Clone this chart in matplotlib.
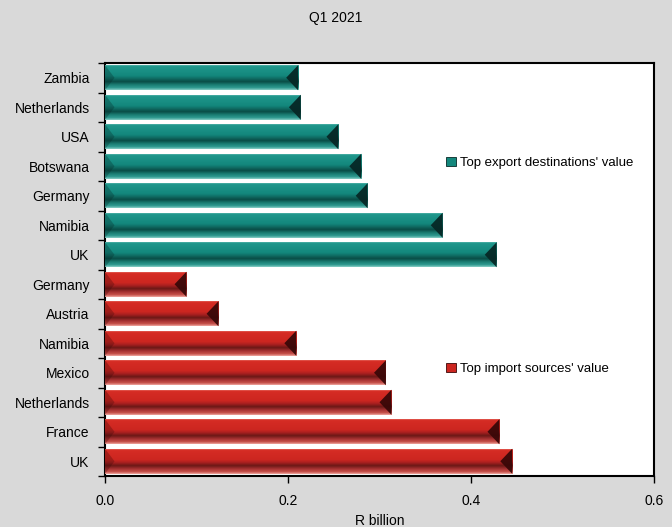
import numpy as np
import matplotlib
matplotlib.use("Agg")
import matplotlib.pyplot as plt
from matplotlib.patches import Polygon, Patch
from matplotlib.colors import to_rgb

# ---- data ----
title = "Q1 2021"
export_countries = ["Zambia", "Netherlands", "USA", "Botswana", "Germany", "Namibia", "UK"]
export_values = [0.211, 0.214, 0.255, 0.280, 0.287, 0.369, 0.428]
import_countries = ["Germany", "Austria", "Namibia", "Mexico", "Netherlands", "France", "UK"]
import_values = [0.089, 0.124, 0.209, 0.307, 0.313, 0.431, 0.445]
export_label = "Top export destinations' value"
import_label = "Top import sources' value"
x_ticks = [0.0, 0.2, 0.4, 0.6]
x_tick_labels = ["0.0", "0.2", "0.4", "0.6"]
x_label = "R billion"

plt.rcParams['font.family'] = ['Liberation Sans', 'DejaVu Sans']

fig = plt.figure(figsize=(6.72, 5.27), dpi=100)
fig.patch.set_facecolor('#d9d9d9')
ax = fig.add_axes([105/672, 1-476/527, (654-105)/672, (476-63)/527])
ax.set_facecolor('white')

labels = export_countries + import_countries
values = export_values + import_values
n = len(labels)
ypos = np.arange(n)[::-1]

teal_stops = [(0.0, '#7cc8be'), (0.08, '#1f978c'), (0.45, '#13877c'), (0.56, '#0f6c63'),
              (0.68, '#0a4c46'), (0.80, '#1a7d73'), (0.92, '#2f9a90'), (1.0, '#86cdc4')]
red_stops = [(0.0, '#ee8a80'), (0.08, '#d62c24'), (0.45, '#cc2620'), (0.56, '#a82020'),
             (0.68, '#6a1816'), (0.80, '#a43030'), (0.92, '#c6504a'), (1.0, '#eea39c')]

def grad(stops, N=64):
    f = np.linspace(0, 1, N)
    pos = [s[0] for s in stops]
    cols = np.array([to_rgb(s[1]) for s in stops])
    arr = np.stack([np.interp(f, pos, cols[:, k]) for k in range(3)], axis=-1)
    return arr[:, None, :]

series = [(export_values, ypos[:7], teal_stops, '#13877c', '#062826', export_label),
          (import_values, ypos[7:], red_stops, '#cc2620', '#3a0808', import_label)]

t = 0.013
handles = []
for vals, yp, stops, base, dark, lab in series:
    bars = ax.barh(yp, vals, height=0.85, color=base, edgecolor='none', zorder=2)
    img = grad(stops)
    for b in bars:
        x0, y0 = b.get_x(), b.get_y()
        w, h = b.get_width(), b.get_height()
        im = ax.imshow(img, extent=(x0, x0 + w, y0, y0 + h), origin='upper',
                       aspect='auto', interpolation='bilinear', zorder=3)
        im.set_clip_path(b)
        ym = y0 + h / 2
        ax.add_patch(Polygon([(x0, y0), (x0, y0 + h), (x0 + t * 0.8, ym)], closed=True,
                             facecolor=dark, alpha=0.3, edgecolor='none', zorder=4))
        ax.add_patch(Polygon([(x0 + w, y0), (x0 + w, y0 + h), (x0 + w - t, ym)], closed=True,
                             facecolor=dark, alpha=0.95, edgecolor='none', zorder=4))
    handles.append(Patch(facecolor=base, edgecolor=dark, linewidth=0.6, label=lab))

ax.set_xlim(0, 0.6)
ax.set_ylim(-0.5, n - 0.5)

ax.set_xticks(x_ticks)
ax.set_xticklabels(x_tick_labels, fontsize=10)
ax.set_yticks(np.arange(n + 1) - 0.5)
ax.set_yticklabels([])
ax.set_yticks(ypos, minor=True)
ax.set_yticklabels(labels, minor=True, fontsize=10)
ax.tick_params(axis='y', which='major', length=5, direction='out', width=1)
ax.tick_params(axis='y', which='minor', length=0, pad=11)
ax.tick_params(axis='x', length=5, direction='out', width=1, pad=8)

for s in ax.spines.values():
    s.set_color('black')
    s.set_linewidth(1.5)

ax.set_xlabel(x_label, fontsize=10, labelpad=4)
fig.text(0.5, 1 - 18/527, title, ha='center', va='center', fontsize=10)

leg1 = ax.legend(handles=[handles[0]], loc='center left', bbox_to_anchor=(0.622, 0.758),
                 frameon=False, fontsize=9.5, borderpad=0, borderaxespad=0,
                 handlelength=0.7, handleheight=0.7, handletextpad=0.3)
ax.add_artist(leg1)
ax.legend(handles=[handles[1]], loc='center left', bbox_to_anchor=(0.622, 0.259),
          frameon=False, fontsize=9.5, borderpad=0, borderaxespad=0,
          handlelength=0.7, handleheight=0.7, handletextpad=0.3)

fig.savefig('out.png', dpi=100, facecolor=fig.get_facecolor())
